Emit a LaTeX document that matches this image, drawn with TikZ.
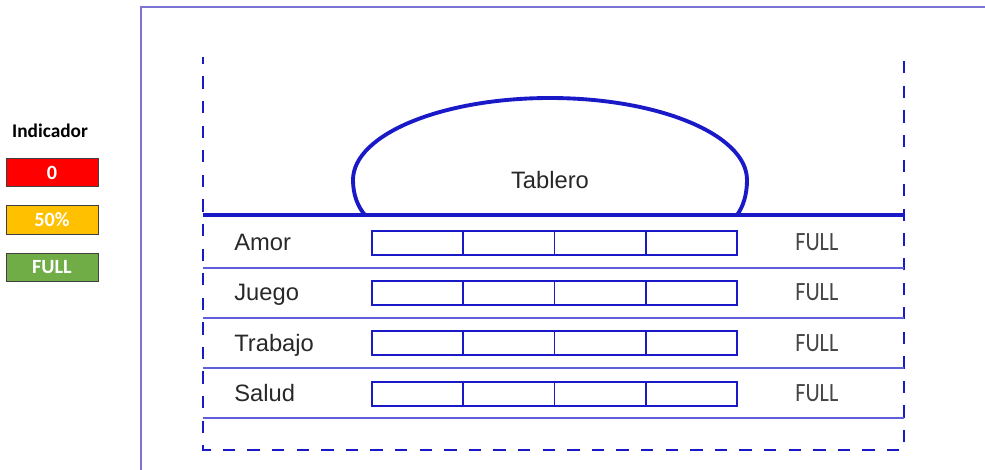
\documentclass[tikz,border=0pt]{standalone}
\usepackage{fontspec}
\setmainfont{Liberation Sans}
\newfontfamily\calibri{Carlito}
\newfontfamily\fullfont[FakeStretch=0.84]{Carlito}
\usepackage{tikz}

\definecolor{frameblue}{RGB}{125,115,210}
\definecolor{inkblue}{RGB}{25,25,200}
\definecolor{rowblue}{RGB}{95,95,220}
\definecolor{labelgray}{RGB}{40,40,40}
\definecolor{fullgray}{RGB}{70,70,70}
\definecolor{indred}{RGB}{255,0,0}
\definecolor{indorange}{RGB}{255,192,0}
\definecolor{indgreen}{RGB}{112,173,71}

\tikzset{
  rowlabel/.style={anchor=base west, inner sep=0pt, text=labelgray, font=\fontsize{13.5}{16}\selectfont},
  fulllabel/.style={anchor=base west, inner sep=0pt, text=fullgray, font=\fullfont\fontsize{15}{18}\selectfont},
  cell/.style={draw=inkblue, line width=1.1pt, minimum width=1.825cm, minimum height=0.48cm, inner sep=0pt, outer sep=0pt},
  indbox/.style={draw=black!75, line width=0.5pt, minimum width=1.84cm, minimum height=0.57cm, inner sep=0pt, text=white, font=\calibri\bfseries\fontsize{11.5}{13}\selectfont},
  sep/.style={draw=rowblue, line width=0.8pt},
}

\begin{document}
\begin{tikzpicture}[x=0.02cm, y=-0.02cm]
\useasboundingbox (0,0) rectangle (985,470);
% outer frame
\coordinate (f0) at (141,470);
\coordinate (f1) at (141,7);
\coordinate (f2) at (985,7);
\draw [frameblue, line width=0.85pt] (f0) -- (f1) -- (f2);
% legend
\node (ind) at (50,131) {\calibri\bfseries\fontsize{11}{13}\selectfont Indicador};
\node [indbox, fill=indred] (i0) at (52,172.5) {0};
\node [indbox, fill=indorange] (i50) at (52,220) {50\%};
\node [indbox, fill=indgreen] (ifull) at (52,267.5) {FULL};
% dashed box
\coordinate (d0) at (203,57);
\coordinate (d1) at (203,450);
\coordinate (d2) at (904,450);
\coordinate (d3) at (904,57);
\draw [inkblue, line width=1.6pt, dash pattern=on 7pt off 7pt, dash phase=3pt] (d0) -- (d1) -- (d2) -- (d3);
% board dome
\draw [inkblue, line width=2.2pt] (365,215) .. controls (358,207) and (353,195) .. (353,180)
  .. controls (353,134.7) and (441.2,98) .. (550,98)
  .. controls (658.8,98) and (747,134.7) .. (747,180)
  .. controls (747,195) and (743,207) .. (737,215);
\node [text=labelgray, font=\fontsize{13.5}{16}\selectfont] (tab) at (550,180) {Tablero};
% base and row lines
\coordinate (b0) at (203,215);
\coordinate (b1) at (904,215);
\draw [inkblue, line width=2.2pt] (b0) -- (b1);
\coordinate (s1a) at (203,268); \coordinate (s1b) at (904,268);
\coordinate (s2a) at (203,318); \coordinate (s2b) at (904,318);
\coordinate (s3a) at (203,368); \coordinate (s3b) at (904,368);
\coordinate (s4a) at (203,418); \coordinate (s4b) at (904,418);
\draw [sep] (s1a) -- (s1b);
\draw [sep] (s2a) -- (s2b);
\draw [sep] (s3a) -- (s3b);
\draw [sep] (s4a) -- (s4b);
% rows
\node [rowlabel] (amor) at (234,250) {Amor};
\node [rowlabel] (juego) at (234,300) {Juego};
\node [rowlabel] (trabajo) at (234,351) {Trabajo};
\node [rowlabel] (salud) at (234,401) {Salud};
\node [cell] (a1) at (417.6,243) {};
\node [cell] (a2) at (508.9,243) {};
\node [cell] (a3) at (600.1,243) {};
\node [cell] (a4) at (691.4,243) {};
\node [cell] (j1) at (417.6,293) {};
\node [cell] (j2) at (508.9,293) {};
\node [cell] (j3) at (600.1,293) {};
\node [cell] (j4) at (691.4,293) {};
\node [cell] (t1) at (417.6,343) {};
\node [cell] (t2) at (508.9,343) {};
\node [cell] (t3) at (600.1,343) {};
\node [cell] (t4) at (691.4,343) {};
\node [cell] (s1) at (417.6,394) {};
\node [cell] (s2) at (508.9,394) {};
\node [cell] (s3) at (600.1,394) {};
\node [cell] (s4) at (691.4,394) {};
\node [fulllabel] (fa) at (795,250) {FULL};
\node [fulllabel] (fj) at (795,300) {FULL};
\node [fulllabel] (ft) at (795,351) {FULL};
\node [fulllabel] (fs) at (795,401) {FULL};
\end{tikzpicture}
\end{document}
